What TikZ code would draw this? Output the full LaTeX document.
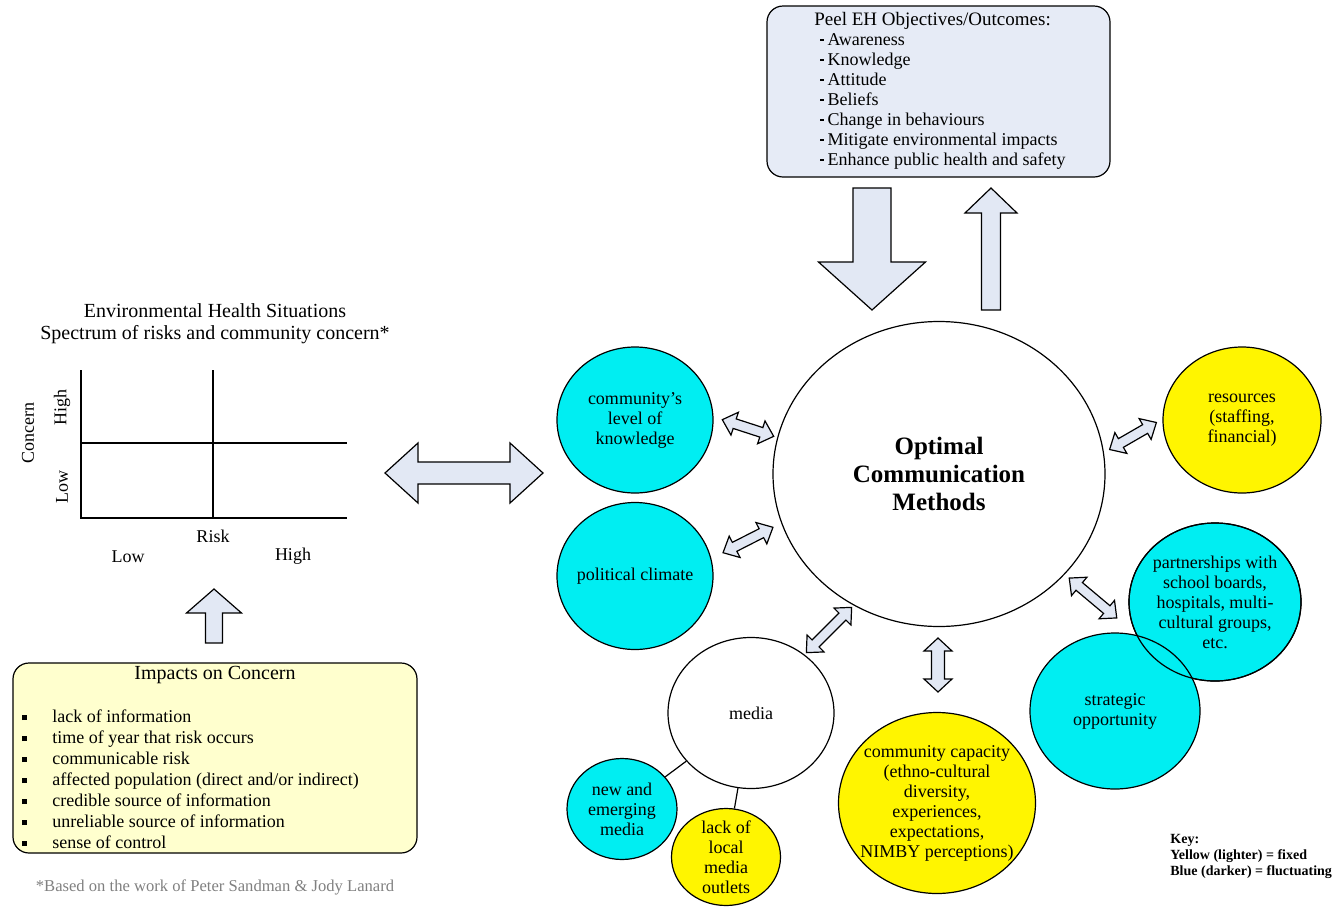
\documentclass[tikz,border=0pt]{standalone}
\usepackage{fontspec}
\setmainfont{Liberation Serif}
\usetikzlibrary{shapes.geometric, positioning}

\definecolor{fixedyellow}{RGB}{255,245,0}
\definecolor{flucblue}{RGB}{0,238,242}
\definecolor{arrowfill}{RGB}{226,232,244}
\definecolor{goalfill}{RGB}{230,235,246}
\definecolor{impactfill}{RGB}{255,255,206}

% block arrow with two heads: centre, angle, half length, half shaft, half head, head length
\newcommand{\twoway}[6]{%
  \draw[blocky, shift={#1}, rotate=#2]
    (-#3,0) -- (-#3+#6,-#5) -- (-#3+#6,-#4) -- (#3-#6,-#4) -- (#3-#6,-#5)
    -- (#3,0) -- (#3-#6,#5) -- (#3-#6,#4) -- (-#3+#6,#4) -- (-#3+#6,#5) -- cycle;}
% block arrow with one head: tail, angle, length, half shaft, half head, head length
\newcommand{\oneway}[6]{%
  \draw[blocky, shift={#1}, rotate=#2]
    (0,-#4) -- (#3-#6,-#4) -- (#3-#6,-#5) -- (#3,0) -- (#3-#6,#5) -- (#3-#6,#4) -- (0,#4) -- cycle;}
\newcommand{\goalitem}{\hspace*{3pt}\raisebox{2.2pt}{\rule{1.8pt}{1.3pt}}\hspace*{1.8pt}}
\newcommand{\impitem}{\raisebox{1pt}{\rule{2.5pt}{2.5pt}}\hspace*{12.5pt}}

\begin{document}
\begin{tikzpicture}[
        x=0.5pt, y=-0.5pt,
        every node/.style={font=\fontsize{9}{10}\selectfont, inner sep=0pt},
        bubble/.style={ellipse, draw, line width=0.6pt, inner sep=0pt},
        fixed/.style={bubble, fill=fixedyellow},
        fluct/.style={bubble, fill=flucblue},
        inside/.style={align=center, font=\fontsize{9}{10}\selectfont},
        blocky/.style={draw, line width=0.6pt, fill=arrowfill, line join=miter},
        panel/.style={draw, line width=0.6pt, rounded corners=8pt}
    ]
    \useasboundingbox (0,0) rectangle (1340,906);

    % objectives
    \node[panel, fill=goalfill, minimum width=171.5pt, minimum height=85.5pt] (goals) at (938.5,91.5) {};
    \node[align=left, anchor=north west] (goaltext) at (814,12) {\fontsize{9.5}{10}\selectfont Peel EH Objectives/Outcomes:\\
        \goalitem Awareness\\ \goalitem Knowledge\\ \goalitem Attitude\\ \goalitem Beliefs\\
        \goalitem Change in behaviours\\ \goalitem Mitigate environmental impacts\\
        \goalitem Enhance public health and safety};
    \oneway{(872,188)}{-90}{122}{19}{53.5}{48}
    \oneway{(991,310)}{90}{122}{9.5}{26}{25}

    % chart
    \node[align=center, font=\fontsize{10}{11}\selectfont] (charttitle) at (215,324)
        {Environmental Health Situations\\Spectrum of risks and community concern*};
    \draw[line width=0.7pt] (81,370) -- (81,518) -- (347,518);
    \draw[line width=0.7pt] (213,370) -- (213,518);
    \draw[line width=0.7pt] (81,443) -- (347,443);
    \node[rotate=90] (hiconc) at (62,407) {High};
    \node[rotate=90] (loconc) at (62,487) {Low};
    \node[rotate=90] (concern) at (28,433) {Concern};
    \node (risk) at (213,536) {Risk};
    \node (lorisk) at (128,557) {Low};
    \node (hirisk) at (293,556) {High};
    \oneway{(214,643)}{90}{54}{8.5}{27.5}{24}

    % impacts
    \node[panel, fill=impactfill, minimum width=202pt, minimum height=95pt] (impacts) at (215,758) {};
    \node[font=\fontsize{10}{11}\selectfont] (imptitle) at (215,675) {Impacts on Concern};
    \node[align=left, anchor=north west, font=\fontsize{9}{10.5}\selectfont] (implist) at (22,709)
        {\impitem lack of information\\ \impitem time of year that risk occurs\\
         \impitem communicable risk\\ \impitem affected population (direct and/or indirect)\\
         \impitem credible source of information\\ \impitem unreliable source of information\\
         \impitem sense of control};
    \node[text=black!50, font=\fontsize{8.3}{9}\selectfont] (note) at (215,887) {*Based on the work of Peter Sandman \& Jody Lanard};
    \twoway{(464,473)}{0}{79}{11}{30}{33}

    % methods
    \node[bubble, fill=white, minimum width=166pt, minimum height=152.5pt,
        label={[align=center, font=\bfseries\fontsize{12.5}{14}\selectfont]center:Optimal\\Communication\\Methods}] (main) at (939,474) {};
    \node[fluct, minimum width=78pt, minimum height=73pt,
        label={[inside]center:community's\\level of\\knowledge}] (know) at (635,420) {};
    \node[fluct, minimum width=78pt, minimum height=73.5pt,
        label={[inside]center:political climate}] (pol) at (635,576) {};
    \node[fixed, minimum width=79pt, minimum height=73pt,
        label={[inside]center:resources\\(staffing,\\financial)}] (res) at (1242,420) {};
    \node[fluct, minimum width=86pt, minimum height=79pt,
        label={[inside]center:partnerships with\\school boards,\\hospitals, multi-\\cultural groups,\\etc.}] (part) at (1215,602) {};
    \node[fluct, minimum width=85pt, minimum height=78pt,
        label={[inside]center:strategic\\opportunity}] (strat) at (1115,711) {};
    \draw[line width=0.6pt] (part.center) ellipse [x radius=86, y radius=79];
    \node[bubble, fill=white, minimum width=83pt, minimum height=75.5pt,
        label={[inside]center:media}] (media) at (751,713) {};
    \node[fluct, minimum width=55pt, minimum height=50.5pt,
        label={[inside]center:new and\\emerging\\media}] (newm) at (622,809) {};
    \node[fixed, minimum width=54.5pt, minimum height=48.5pt,
        label={[inside]center:lack of\\local\\media\\outlets}] (lackm) at (726,857) {};
    \node[fixed, minimum width=98.5pt, minimum height=90.5pt,
        label={[inside]center:community capacity\\(ethno-cultural\\diversity,\\experiences,\\expectations,\\NIMBY perceptions)}] (cap) at (937,803) {};
    \draw[line width=0.6pt] (media) -- (newm);
    \draw[line width=0.6pt] (media) -- (lackm);

    \twoway{(748,428)}{-18}{27}{5}{12}{13}
    \twoway{(748,540)}{27}{28}{5}{12}{13}
    \twoway{(1133,436)}{30}{27}{5}{12}{13}
    \twoway{(1093,598)}{-40}{31}{5}{12}{13}
    \twoway{(829,630)}{45}{32}{5}{12}{13}
    \twoway{(938,665)}{90}{27}{6.5}{14}{13}

    \node[align=left, anchor=north west, font=\bfseries\fontsize{7}{8}\selectfont] (key) at (1170,834)
        {Key:\\Yellow (lighter) = fixed\\Blue (darker) = fluctuating};
\end{tikzpicture}
\end{document}
